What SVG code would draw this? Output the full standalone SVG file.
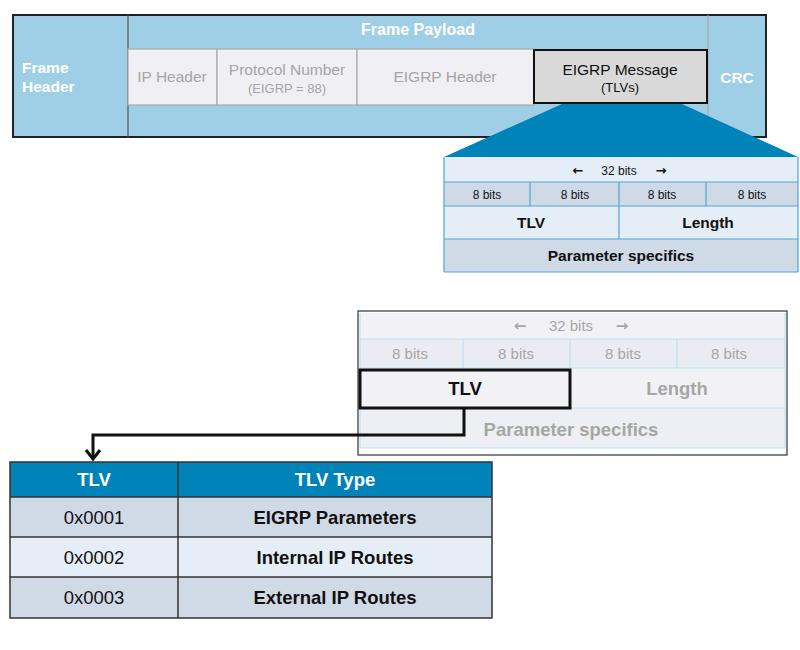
<svg xmlns="http://www.w3.org/2000/svg" width="800" height="650" viewBox="0 0 800 650">
<style>
text{font-family:"Liberation Sans",Arial,sans-serif;text-anchor:middle}
.wb{fill:#fff;font-weight:bold;font-size:15.5px}
.gc{fill:#f0f0f4;stroke:#a9a9a9;stroke-width:1.2}
.gt{fill:#a5a5a5;font-size:15.5px}
.bl{stroke:#4ea6d3;stroke-width:1.2}
.t1{font-size:12px;fill:#111}
.ar{font-family:"DejaVu Sans",sans-serif;font-weight:bold;font-size:13px}
.tb{font-size:15.5px;font-weight:bold;fill:#111}
.fl{stroke:#bcdff0;stroke-width:1.2}
.ft{fill:#a6a6a6;font-size:15px}
.fb{fill:#a6a6a6;font-size:18.5px;font-weight:bold}
.row{stroke:#333;stroke-width:1.5}
.rt{font-size:18.5px;fill:#111}
.rb{font-size:18.5px;fill:#111;font-weight:bold}
</style>
<g id="frame">
<rect x="13" y="15" width="753" height="122" fill="#9fcfe6" stroke="#222" stroke-width="2"/>
<line x1="128" y1="15" x2="128" y2="137" stroke="#555" stroke-width="1.2"/>
<line x1="708" y1="15" x2="708" y2="137" stroke="#aaa" stroke-width="1.2"/>
<text class="wb" x="418" y="35" style="font-size:16px">Frame  Payload</text>
<text class="wb" x="22" y="73" style="text-anchor:start">Frame</text>
<text class="wb" x="22" y="92" style="text-anchor:start">Header</text>
<text class="wb" x="737" y="83">CRC</text>
</g>
<g id="ip-header"><rect class="gc" x="128" y="49" width="89" height="56"/><text class="gt" x="172" y="82">IP Header</text></g>
<g id="protocol-number"><rect class="gc" x="217" y="49" width="140" height="56"/><text class="gt" x="287" y="75">Protocol Number</text><text class="gt" x="287" y="93" style="font-size:13px">(EIGRP = 88)</text></g>
<g id="eigrp-header"><rect class="gc" x="357" y="49" width="177" height="56"/><text class="gt" x="445" y="82">EIGRP Header</text></g>
<g id="eigrp-message"><rect x="534" y="50" width="173" height="53" fill="#d9d9d9" stroke="#111" stroke-width="2"/><text x="620" y="75" style="font-size:15.5px;fill:#111">EIGRP Message</text><text x="620" y="92" style="font-size:13px;fill:#111">(TLVs)</text></g>
<g id="zoom-trapezoid"><polygon points="562,104 682,104 798,157 444,157" fill="#0083b8"/></g>
<g id="tlv-format">
<rect x="444" y="157" width="354" height="25" fill="#e5edf6"/>
<rect x="444" y="182" width="354" height="24" fill="#d0dae7"/>
<rect x="444" y="206" width="354" height="33" fill="#e5edf6"/>
<rect x="444" y="239" width="354" height="33" fill="#d0dae7"/>
<g class="bl">
<line x1="444" y1="157" x2="444" y2="272"/><line x1="798" y1="157" x2="798" y2="272"/>
<line x1="444" y1="182" x2="798" y2="182"/><line x1="444" y1="206" x2="798" y2="206"/>
<line x1="444" y1="239" x2="798" y2="239"/><line x1="444" y1="272" x2="798" y2="272"/>
<line x1="530" y1="182" x2="530" y2="206"/><line x1="706" y1="182" x2="706" y2="206"/>
<line x1="619" y1="182" x2="619" y2="239"/>
</g>
<text class="t1 ar" x="578" y="175">←</text>
<text class="t1" x="619" y="175">32 bits</text>
<text class="t1 ar" x="661" y="175">→</text>
<text class="t1" x="487" y="199">8 bits</text><text class="t1" x="575" y="199">8 bits</text>
<text class="t1" x="662" y="199">8 bits</text><text class="t1" x="752" y="199">8 bits</text>
<text class="tb" x="531" y="228">TLV</text><text class="tb" x="708" y="228">Length</text>
<text class="tb" x="621" y="261">Parameter specifics</text>
</g>
<g id="tlv-format-faded">
<rect x="358" y="311" width="429" height="144" fill="#fff" stroke="#333" stroke-width="1.2"/>
<rect x="360" y="313" width="425" height="26" fill="#f2f2f6"/>
<rect x="360" y="339" width="425" height="29" fill="#eaecf3"/>
<rect x="360" y="368" width="425" height="40" fill="#f2f2f6"/>
<rect x="360" y="408" width="425" height="40" fill="#eeeff4"/>
<g class="fl">
<line x1="360" y1="313" x2="360" y2="448"/><line x1="785" y1="313" x2="785" y2="448"/>
<line x1="360" y1="339" x2="785" y2="339"/><line x1="360" y1="368" x2="785" y2="368"/>
<line x1="360" y1="408" x2="785" y2="408"/><line x1="360" y1="448" x2="785" y2="448"/>
<line x1="463" y1="339" x2="463" y2="368"/><line x1="570" y1="339" x2="570" y2="368"/><line x1="677" y1="339" x2="677" y2="368"/>
</g>
<text class="ft ar" x="520" y="331" style="font-size:15px">←</text>
<text class="ft" x="571" y="331">32 bits</text>
<text class="ft ar" x="622" y="331" style="font-size:15px">→</text>
<text class="ft" x="410" y="359">8 bits</text><text class="ft" x="516" y="359">8 bits</text>
<text class="ft" x="623" y="359">8 bits</text><text class="ft" x="729" y="359">8 bits</text>
<text class="fb" x="677" y="395">Length</text>
<text class="fb" x="571" y="436">Parameter specifics</text>
</g>
<g id="tlv-highlight"><rect x="360" y="370" width="210" height="38" fill="#f2f2f6" stroke="#111" stroke-width="3"/><text x="465" y="395" style="font-size:18.5px;font-weight:bold;fill:#111">TLV</text></g>
<g id="connectors">
<polyline points="464,408 464,435 93,435 93,458" fill="none" stroke="#111" stroke-width="3"/>
<polyline points="86,450 93,459 100,450" fill="none" stroke="#111" stroke-width="3"/>
</g>
<g id="tlv-table">
<rect x="10" y="462" width="482" height="35" fill="#0083b8"/>
<rect x="10" y="497" width="482" height="40" fill="#d0dae7"/>
<rect x="10" y="537" width="482" height="40" fill="#e5edf6"/>
<rect x="10" y="577" width="482" height="41" fill="#d0dae7"/>
<g class="row">
<rect x="10" y="462" width="482" height="156" fill="none"/>
<line x1="10" y1="497" x2="492" y2="497"/><line x1="10" y1="537" x2="492" y2="537"/><line x1="10" y1="577" x2="492" y2="577"/>
<line x1="178" y1="462" x2="178" y2="618"/>
</g>
<text x="94" y="486" style="font-size:18.5px;font-weight:bold;fill:#fff">TLV</text>
<text x="335" y="486" style="font-size:18.5px;font-weight:bold;fill:#fff">TLV Type</text>
<text class="rt" x="94" y="524">0x0001</text><text class="rb" x="335" y="524">EIGRP Parameters</text>
<text class="rt" x="94" y="564">0x0002</text><text class="rb" x="335" y="564">Internal IP Routes</text>
<text class="rt" x="94" y="604">0x0003</text><text class="rb" x="335" y="604">External IP Routes</text>
</g>
</svg>
